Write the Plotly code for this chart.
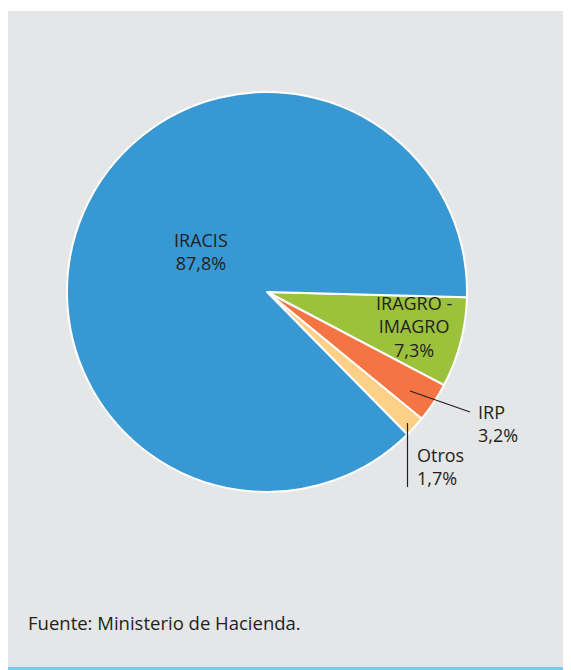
import plotly.graph_objects as go

# page has an 8px body margin; figure coordinates below are given in page pixels
OFF = 8
W, H = 571 - OFF, 670 - OFF

labels = ["IRAGRO - IMAGRO", "IRP", "Otros", "IRACIS"]
values = [7.3, 3.2, 1.7, 87.8]
colors = ["#9cc23c", "#f47444", "#fdd088", "#3898d4"]
label_text = ["IRAGRO -<br>IMAGRO<br>7,3%", "IRP<br>3,2%", "Otros<br>1,7%", "IRACIS<br>87,8%"]

def px(x):
    return (x - OFF) / W

def py(y):
    return 1 - (y - OFF) / H

fig = go.Figure(go.Pie(
    labels=labels, values=values, sort=False, direction="clockwise",
    rotation=91.5, textinfo="none", hoverinfo="label+percent",
    marker=dict(colors=colors, line=dict(color="white", width=2)),
    domain=dict(x=[px(67), px(467)], y=[py(492), py(92)]),
    showlegend=False,
))

font = dict(family="Open Sans, Noto Sans, sans-serif", size=18, color="#231f20")

pos = {
    "IRAGRO - IMAGRO": (414, 326, "center"),
    "IRP": (476, 423, "left"),
    "Otros": (415, 466, "left"),
    "IRACIS": (201, 251, "center"),
}
anns = []
for lab, txt in zip(labels, label_text):
    x, y, al = pos[lab]
    anns.append(dict(x=px(x), y=py(y), xref="paper", yref="paper", text=txt,
                     showarrow=False, xanchor=al, yanchor="middle",
                     align="center" if al == "center" else "left", font=font))
anns.append(dict(x=px(26), y=py(622), xref="paper", yref="paper",
                 text="Fuente: Ministerio de Hacienda.", showarrow=False,
                 xanchor="left", yanchor="middle",
                 font=dict(family="Open Sans, Noto Sans, sans-serif", size=18.5, color="#231f20")))

shapes = [
    dict(type="rect", xref="paper", yref="paper", x0=-0.01, x1=1.01, y0=py(667), y1=py(11),
         fillcolor="#e5e6e8", line=dict(width=0), layer="below"),
    dict(type="rect", xref="paper", yref="paper", x0=-0.01, x1=1.01, y0=-0.01, y1=py(667),
         fillcolor="#7fc8ef", line=dict(width=0), layer="below"),
    dict(type="line", xref="paper", yref="paper", x0=px(410), y0=py(391), x1=px(470), y1=py(412),
         line=dict(color="#231f20", width=1.2)),
    dict(type="line", xref="paper", yref="paper", x0=px(407.5), y0=py(423), x1=px(407.5), y1=py(487),
         line=dict(color="#231f20", width=1.2)),
]

fig.update_layout(
    width=W, height=H, margin=dict(l=0, r=0, t=0, b=0),
    paper_bgcolor="white", plot_bgcolor="white",
    annotations=anns, shapes=shapes,
)

fig.write_html("out.html")
